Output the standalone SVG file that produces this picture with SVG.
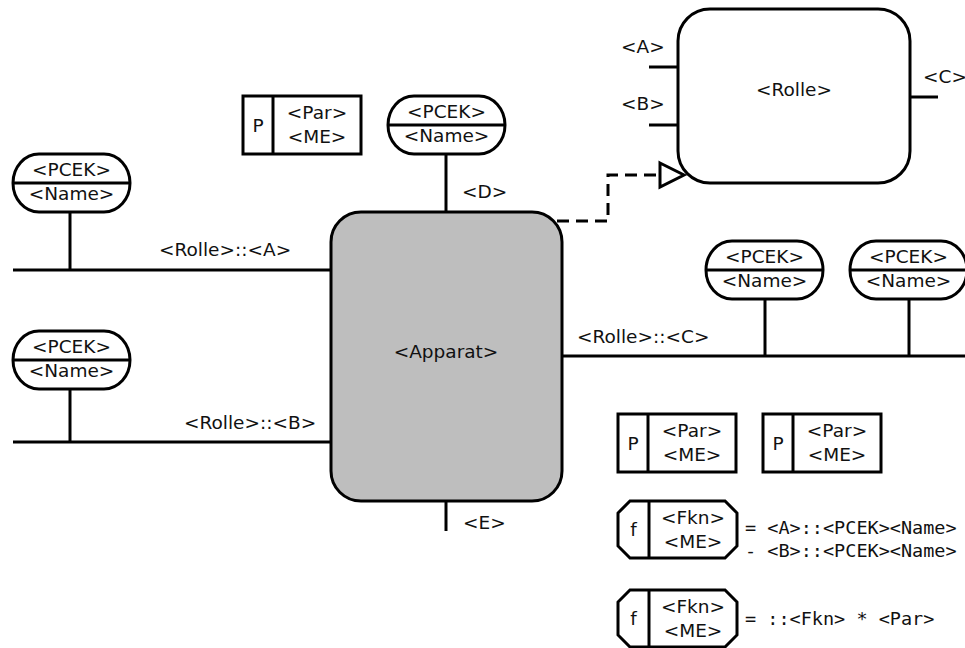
<svg xmlns="http://www.w3.org/2000/svg" width="965" height="648" viewBox="0 0 965 648">
  <style>
    .ln { stroke: #000; stroke-width: 3; fill: none; }
    .box { stroke: #000; stroke-width: 3; fill: #fff; }
    .t { font-family: "DejaVu Sans", "Liberation Sans", sans-serif; font-size: 18.5px; fill: #111; }
    .c { text-anchor: middle; }
    .m { font-family: "DejaVu Sans Mono", "Liberation Mono", monospace; font-size: 18.5px; fill: #111; }
  </style>
  <defs>
    <!-- PCEK / Name attribute capsule -->
    <g id="pcek">
      <rect x="0" y="0" width="117" height="58" rx="26" ry="29" class="box"/>
      <line x1="0" y1="29" x2="117" y2="29" class="ln"/>
      <text x="58.5" y="22" class="t c">&lt;PCEK&gt;</text>
      <text x="58.5" y="46" class="t c">&lt;Name&gt;</text>
    </g>
    <!-- parameter box -->
    <g id="par">
      <rect x="0" y="0" width="118" height="58" class="box"/>
      <line x1="30" y1="0" x2="30" y2="58" class="ln"/>
      <text x="15" y="36" class="t c">P</text>
      <text x="74" y="23" class="t c">&lt;Par&gt;</text>
      <text x="74" y="47" class="t c">&lt;ME&gt;</text>
    </g>
    <!-- function box -->
    <g id="fkn">
      <path d="M12,0 H107 L119,12 V45 L107,57 H12 L0,45 V12 Z" class="box"/>
      <line x1="31" y1="0" x2="31" y2="57" class="ln"/>
      <text x="15.5" y="35" class="t c">f</text>
      <text x="75" y="23" class="t c">&lt;Fkn&gt;</text>
      <text x="75" y="47" class="t c">&lt;ME&gt;</text>
    </g>
  </defs>

  <g id="connectors">
    <line x1="446" y1="154" x2="446" y2="212" class="ln"/>
    <line x1="446" y1="501" x2="446" y2="531" class="ln"/>
    <line x1="70" y1="212" x2="70" y2="270" class="ln"/>
    <line x1="13" y1="270" x2="331" y2="270" class="ln"/>
    <line x1="70" y1="389" x2="70" y2="442" class="ln"/>
    <line x1="13" y1="442" x2="331" y2="442" class="ln"/>
    <line x1="765" y1="299" x2="765" y2="356" class="ln"/>
    <line x1="909" y1="299" x2="909" y2="356" class="ln"/>
    <line x1="562" y1="356" x2="965" y2="356" class="ln"/>
    <path d="M557,221 H608 V175 H660" class="ln" stroke-dasharray="12,7"/>
    <polygon points="660,163 684,175 660,187" class="box"/>
    <text x="462" y="198" class="t">&lt;D&gt;</text>
    <text x="463" y="529" class="t">&lt;E&gt;</text>
    <text x="159" y="256" class="t">&lt;Rolle&gt;::&lt;A&gt;</text>
    <text x="184" y="429" class="t">&lt;Rolle&gt;::&lt;B&gt;</text>
    <text x="577" y="343" class="t">&lt;Rolle&gt;::&lt;C&gt;</text>
  </g>

  <g id="apparat">
    <rect x="331" y="212" width="231" height="289" rx="30" ry="30" stroke="#000" stroke-width="3" fill="#bebebe"/>
    <text x="446" y="358" class="t c">&lt;Apparat&gt;</text>
  </g>

  <g id="rolle">
    <line x1="649" y1="67" x2="678" y2="67" class="ln"/>
    <line x1="649" y1="125" x2="678" y2="125" class="ln"/>
    <line x1="910" y1="97" x2="938" y2="97" class="ln"/>
    <rect x="678" y="9" width="232" height="174" rx="32" ry="32" class="box"/>
    <text x="794" y="96" class="t c">&lt;Rolle&gt;</text>
    <text x="621" y="53" class="t">&lt;A&gt;</text>
    <text x="621" y="110" class="t">&lt;B&gt;</text>
    <text x="923" y="83" class="t">&lt;C&gt;</text>
  </g>

  <g id="pcek-top"><use href="#pcek" x="388" y="96"/></g>
  <g id="pcek-a"><use href="#pcek" x="13" y="154"/></g>
  <g id="pcek-b"><use href="#pcek" x="13" y="331"/></g>
  <g id="pcek-c1"><use href="#pcek" x="706" y="241"/></g>
  <g id="pcek-c2"><use href="#pcek" x="850" y="241"/></g>

  <g id="par-top"><use href="#par" x="243" y="96"/></g>
  <g id="par-1"><use href="#par" x="618" y="414"/></g>
  <g id="par-2"><use href="#par" x="763" y="414"/></g>

  <g id="fkn-1">
    <use href="#fkn" x="618" y="501"/>
    <text x="745" y="534" class="m" xml:space="preserve">= &lt;A&gt;::&lt;PCEK&gt;&lt;Name&gt;</text>
    <text x="745" y="557" class="m" xml:space="preserve">- &lt;B&gt;::&lt;PCEK&gt;&lt;Name&gt;</text>
  </g>
  <g id="fkn-2">
    <use href="#fkn" x="618" y="590"/>
    <text x="745" y="625" class="m" xml:space="preserve">= ::&lt;Fkn&gt; * &lt;Par&gt;</text>
  </g>
</svg>
